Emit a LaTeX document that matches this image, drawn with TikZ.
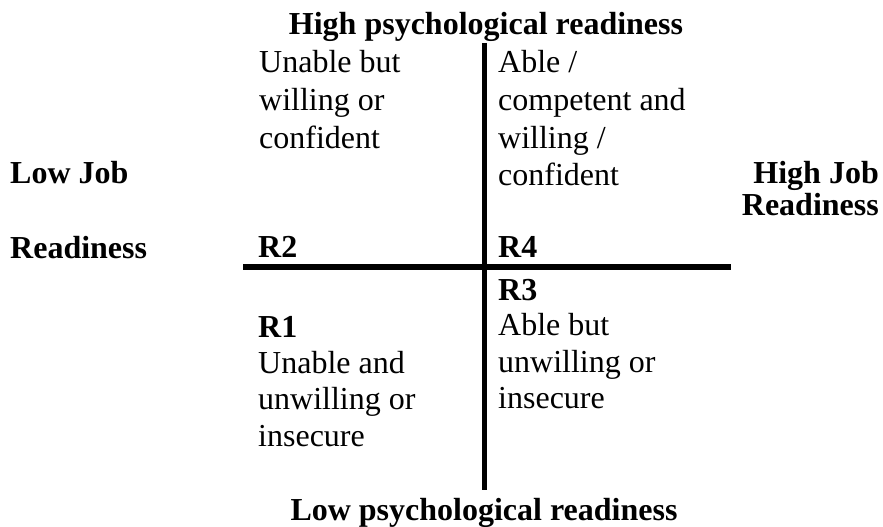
\documentclass[tikz,border=0pt]{standalone}
\usepackage{fontspec}
\setmainfont{Liberation Serif}
\tikzset{
  txt/.style={anchor=base west, inner sep=0pt, font=\fontsize{32}{37}\selectfont},
  boldtxt/.style={txt, font=\fontsize{32}{37}\selectfont\bfseries},
  axis/.style={line width=5.5pt, line cap=butt}
}
\begin{document}
\begin{tikzpicture}[x=1pt,y=-1pt]
\useasboundingbox (0,0) rectangle (883,527);
% axes
\coordinate (vtop) at (484.5,43);
\coordinate (vbot) at (484.5,490);
\coordinate (hl) at (243,267);
\coordinate (hr) at (731,267);
\draw[axis] (vtop) -- (vbot);
\draw[axis] (hl) -- (hr);
% axis titles
\node[boldtxt, anchor=base] (toptitle) at (486,35) {High psychological readiness};
\node[boldtxt, anchor=base] (bottitle) at (484,520) {Low psychological readiness};
\node[boldtxt] (lowjob1) at (10,183) {Low Job};
\node[boldtxt] (lowjob2) at (10,258) {Readiness};
\node[boldtxt, anchor=base east] (highjob1) at (879,183) {High Job};
\node[boldtxt, anchor=base east] (highjob2) at (879,215) {Readiness};
% top-left quadrant
\node[txt] (tl1) at (259,72) {Unable but};
\node[txt] (tl2) at (259,110) {willing or};
\node[txt] (tl3) at (259,148) {confident};
\node[boldtxt] (r2) at (258,257) {R2};
% top-right quadrant
\node[txt] (tr1) at (498,72) {Able /};
\node[txt] (tr2) at (498,110) {competent and};
\node[txt] (tr3) at (498,148) {willing /};
\node[txt] (tr4) at (498,185) {confident};
\node[boldtxt] (r4) at (498,257) {R4};
% bottom-right quadrant
\node[boldtxt] (r3) at (498,300) {R3};
\node[txt] (br1) at (498,335) {Able but};
\node[txt] (br2) at (498,372) {unwilling or};
\node[txt] (br3) at (498,408) {insecure};
% bottom-left quadrant
\node[boldtxt] (r1) at (258,337) {R1};
\node[txt] (bl1) at (258,373) {Unable and};
\node[txt] (bl2) at (258,409) {unwilling or};
\node[txt] (bl3) at (258,446) {insecure};
\end{tikzpicture}
\end{document}
